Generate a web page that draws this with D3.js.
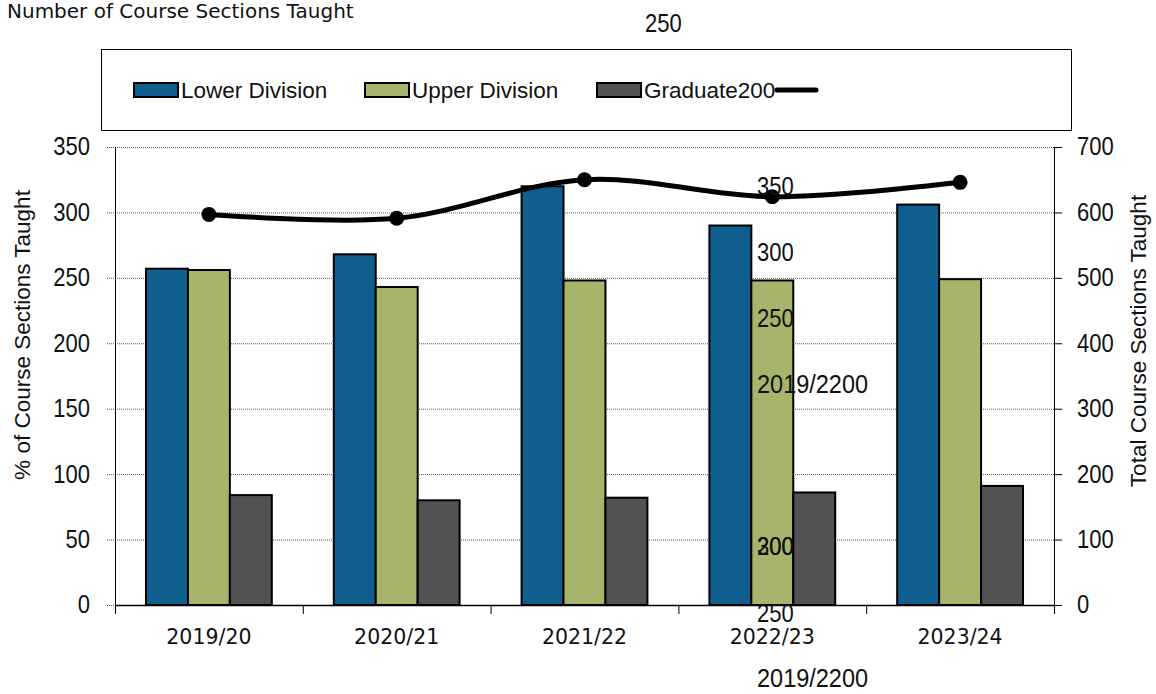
<!DOCTYPE html>
<html><head><meta charset="utf-8">
<script src="https://cdn.jsdelivr.net/npm/d3@7"></script>
<style>
body{margin:0;background:#fff;}
svg{display:block;}
.num{font-family:"Liberation Sans",Arial,sans-serif;font-size:25px;fill:#111;}
.lab{font-family:"Liberation Sans",Arial,sans-serif;font-size:22.5px;fill:#111;}
.dv{font-family:"DejaVu Sans",Verdana,sans-serif;fill:#111;}
</style></head>
<body><svg id="c" width="1156" height="694"></svg>
<script>
const categories = ["2019/20","2020/21","2021/22","2022/23","2023/24"];
const seriesNames = ["Lower Division","Upper Division","Graduate"];
const lowerDivision = [257,268,320,290,306];
const upperDivision = [256,243,248,248,249];
const graduate = [84,80,82,86,91];
const totalSections = [597,591,650,624,646];
const leftTicks = [0,50,100,150,200,250,300,350];
const rightTicks = [0,100,200,300,400,500,600,700];
const colors = ["#0f5e8e","#a7b46b","#535151"];
// stray labels present in the reference
const strayLabels = [
  {t:"250", x:645, y:24},
  {t:"350", x:757, y:187},
  {t:"300", x:757, y:253},
  {t:"250", x:757, y:319},
  {t:"2019/2200", x:757, y:384},
  {t:"200", x:757, y:547},
  {t:"300", x:757, y:547},
  {t:"250", x:757, y:614},
  {t:"2019/2200", x:757, y:678}
];

const SX = 0.88; // horizontal condensing of numeric labels
const svg = d3.select("#c");
const L=115, R=1054, T=147, B=605;
const x = d3.scaleBand().domain(categories).range([L,R]).padding(0);
const yL = d3.scaleLinear().domain([0,350]).range([B,T]);
const yR = d3.scaleLinear().domain([0,700]).range([B,T]);
const groupW = x.bandwidth()*0.67;
const xs = d3.scaleBand().domain(seriesNames).range([0,groupW]).padding(0);

function numText(g, t, px, py, anchor, sx){
  return g.append("text").attr("class","num")
    .attr("transform",`translate(${px},${py}) scale(${sx||SX},1)`)
    .attr("text-anchor",anchor).attr("dominant-baseline","central").text(t);
}

// title
svg.append("text").attr("class","dv").attr("x",7).attr("y",18).attr("font-size",20).text("Number of Course Sections Taught");

// legend box
svg.append("rect").attr("x",101.5).attr("y",49.5).attr("width",970).attr("height",81).attr("fill","#fff").attr("stroke","#000").attr("stroke-width",1);
const legX = [134,365,597];
const legTxt = ["Lower Division","Upper Division","Graduate200"];
legX.forEach((lx,i)=>{
  svg.append("rect").attr("x",lx).attr("y",83).attr("width",44).attr("height",14).attr("fill",colors[i]).attr("stroke","#000").attr("stroke-width",2);
  svg.append("text").attr("class","lab").attr("x",lx+47).attr("y",90).attr("dominant-baseline","central")
    .attr("font-size",23).text(legTxt[i]);
});
svg.append("line").attr("x1",777).attr("x2",816).attr("y1",90).attr("y2",90).attr("stroke","#000").attr("stroke-width",5).attr("stroke-linecap","round");

// gridlines
svg.append("g").selectAll("line").data(leftTicks).join("line")
  .attr("x1",107).attr("x2",R).attr("y1",d=>yL(d)+0.5).attr("y2",d=>yL(d)+0.5)
  .attr("stroke","#555").attr("stroke-width",1).attr("stroke-dasharray","1,1");

// left axis
const gL = svg.append("g");
leftTicks.forEach(v=>numText(gL, d3.format("d")(v), 90, yL(v), "end"));
svg.append("line").attr("x1",L+0.5).attr("x2",L+0.5).attr("y1",T).attr("y2",B+8).attr("stroke","#000").attr("stroke-width",1);

// right axis
const gR = svg.append("g");
gR.selectAll("line").data(rightTicks).join("line")
  .attr("x1",R).attr("x2",R+8).attr("y1",d=>yR(d)+0.5).attr("y2",d=>yR(d)+0.5).attr("stroke","#000");
rightTicks.forEach(v=>numText(gR, d3.format("d")(v), 1077, yR(v), "start"));
svg.append("line").attr("x1",R+0.5).attr("x2",R+0.5).attr("y1",T).attr("y2",B+8).attr("stroke","#000").attr("stroke-width",1);

// bars
const seriesData = [lowerDivision, upperDivision, graduate];
seriesData.forEach((vals,si)=>{
  svg.append("g").selectAll("rect").data(categories).join("rect")
    .attr("x",(c)=>x(c)+(x.bandwidth()-groupW)/2+xs(seriesNames[si]))
    .attr("y",(c,i)=>yL(vals[i]))
    .attr("width",xs.bandwidth())
    .attr("height",(c,i)=>B-yL(vals[i]))
    .attr("fill",colors[si]).attr("stroke","#000").attr("stroke-width",2);
});

// x axis
svg.append("line").attr("x1",L).attr("x2",R).attr("y1",B+0.5).attr("y2",B+0.5).attr("stroke","#000").attr("stroke-width",1.5);
const bounds = categories.map(c=>x(c)).concat([R]);
svg.append("g").selectAll("line").data(bounds).join("line")
  .attr("x1",d=>d+0.5).attr("x2",d=>d+0.5).attr("y1",B).attr("y2",B+9).attr("stroke","#000");
svg.append("g").selectAll("text").data(categories).join("text")
  .attr("class","dv").attr("font-size",20.5).attr("text-anchor","middle")
  .attr("x",c=>x(c)+x.bandwidth()/2).attr("y",637).attr("dominant-baseline","central").text(c=>c);

// line
const line = d3.line().x((d,i)=>x(categories[i])+x.bandwidth()/2).y(d=>yR(d)).curve(d3.curveCatmullRom.alpha(0.5));
svg.append("path").datum(totalSections).attr("d",line).attr("fill","none").attr("stroke","#000").attr("stroke-width",5);
svg.append("g").selectAll("circle").data(totalSections).join("circle")
  .attr("cx",(d,i)=>x(categories[i])+x.bandwidth()/2).attr("cy",d=>yR(d)).attr("r",7.5).attr("fill","#000");

// axis titles
svg.append("text").attr("class","lab").attr("text-anchor","middle").attr("dominant-baseline","central")
  .attr("transform","translate(22,335) rotate(-90)").text("% of Course Sections Taught");
svg.append("text").attr("class","lab").attr("text-anchor","middle").attr("dominant-baseline","central")
  .attr("transform","translate(1138,341) rotate(-90)").text("Total Course Sections Taught");

// stray labels
const gS = svg.append("g");
strayLabels.forEach(d=>numText(gS, d.t, d.x, d.y, "start", d.t.length>4?0.94:SX));
</script></body></html>
